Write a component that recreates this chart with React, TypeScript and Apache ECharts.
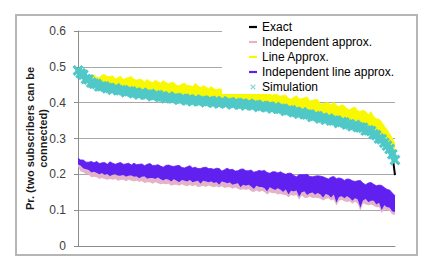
import React, { useEffect, useRef } from "react";
import * as echarts from "echarts";

// 120 ordered cases along the x axis (the reference shows no x labels)
const categories: number[] = Array.from({ length: 120 }, (_, i) => i + 1);

const yTicks = [0, 0.1, 0.2, 0.3, 0.4, 0.5, 0.6];

// Exact (black line, mostly hidden under the simulation markers)
const exact = [
  0.490, 0.484, 0.477, 0.469, 0.462, 0.457, 0.453, 0.450, 0.448, 0.445,
  0.443, 0.442, 0.440, 0.439, 0.437, 0.436, 0.435, 0.433, 0.432, 0.431,
  0.429, 0.428, 0.427, 0.426, 0.425, 0.424, 0.423, 0.422, 0.421, 0.420,
  0.419, 0.418, 0.416, 0.415, 0.414, 0.413, 0.412, 0.411, 0.411, 0.410,
  0.409, 0.408, 0.408, 0.407, 0.406, 0.406, 0.405, 0.404, 0.404, 0.403,
  0.403, 0.402, 0.402, 0.401, 0.401, 0.400, 0.399, 0.399, 0.398, 0.398,
  0.397, 0.397, 0.396, 0.395, 0.394, 0.394, 0.393, 0.392, 0.391, 0.390,
  0.389, 0.389, 0.388, 0.387, 0.385, 0.384, 0.383, 0.381, 0.380, 0.378,
  0.377, 0.375, 0.373, 0.372, 0.370, 0.369, 0.367, 0.365, 0.363, 0.362,
  0.360, 0.358, 0.357, 0.355, 0.353, 0.351, 0.350, 0.348, 0.346, 0.345,
  0.343, 0.341, 0.339, 0.337, 0.335, 0.333, 0.331, 0.328, 0.325, 0.322,
  0.319, 0.314, 0.308, 0.302, 0.296, 0.289, 0.280, 0.270, 0.255, 0.198,
];

// Simulation (x markers)
const simulation = [
  0.490, 0.482, 0.478, 0.466, 0.465, 0.456, 0.453, 0.452, 0.445, 0.446,
  0.445, 0.440, 0.441, 0.436, 0.440, 0.435, 0.435, 0.435, 0.429, 0.432,
  0.431, 0.426, 0.428, 0.423, 0.428, 0.423, 0.423, 0.424, 0.418, 0.421,
  0.421, 0.416, 0.417, 0.412, 0.417, 0.412, 0.412, 0.413, 0.408, 0.411,
  0.411, 0.406, 0.409, 0.404, 0.409, 0.405, 0.405, 0.406, 0.401, 0.404,
  0.405, 0.400, 0.403, 0.398, 0.404, 0.399, 0.399, 0.401, 0.395, 0.399,
  0.399, 0.395, 0.397, 0.392, 0.397, 0.393, 0.393, 0.394, 0.388, 0.391,
  0.391, 0.387, 0.389, 0.384, 0.388, 0.383, 0.383, 0.383, 0.377, 0.379,
  0.379, 0.373, 0.374, 0.369, 0.373, 0.368, 0.367, 0.367, 0.360, 0.363,
  0.362, 0.356, 0.358, 0.352, 0.356, 0.350, 0.350, 0.350, 0.343, 0.346,
  0.345, 0.339, 0.340, 0.334, 0.338, 0.332, 0.331, 0.330, 0.322, 0.323,
  0.321, 0.312, 0.309, 0.300, 0.298, 0.288, 0.280, 0.271, 0.256, 0.240,
];

// Line Approx. : upper edge of the noisy yellow trace (its lower part lies under the simulation)
const lineApproxHigh = [
  0.490, 0.482, 0.478, 0.466, 0.468, 0.473, 0.478, 0.471, 0.470, 0.477,
  0.478, 0.473, 0.473, 0.475, 0.466, 0.470, 0.474, 0.465, 0.468, 0.470,
  0.473, 0.465, 0.463, 0.465, 0.464, 0.458, 0.465, 0.459, 0.456, 0.462,
  0.459, 0.454, 0.462, 0.456, 0.453, 0.456, 0.456, 0.448, 0.447, 0.452,
  0.454, 0.448, 0.448, 0.444, 0.454, 0.447, 0.442, 0.447, 0.444, 0.439,
  0.445, 0.439, 0.436, 0.439, 0.437, 0.431, 0.430, 0.436, 0.437, 0.430,
  0.438, 0.430, 0.428, 0.425, 0.431, 0.427, 0.423, 0.429, 0.431, 0.424,
  0.424, 0.427, 0.425, 0.419, 0.429, 0.421, 0.418, 0.420, 0.421, 0.412,
  0.410, 0.415, 0.419, 0.411, 0.411, 0.414, 0.416, 0.405, 0.406, 0.409,
  0.408, 0.397, 0.397, 0.400, 0.400, 0.393, 0.402, 0.393, 0.389, 0.394,
  0.391, 0.383, 0.380, 0.385, 0.388, 0.377, 0.376, 0.379, 0.375, 0.366,
  0.375, 0.361, 0.355, 0.354, 0.346, 0.334, 0.325, 0.313, 0.301, 0.285,
];

// Independent line approx. : upper and lower edges of the noisy purple trace
const indepLineHigh = [
  0.245, 0.240, 0.240, 0.234, 0.234, 0.236, 0.232, 0.236, 0.230, 0.232,
  0.233, 0.228, 0.235, 0.231, 0.228, 0.231, 0.233, 0.228, 0.229, 0.231,
  0.226, 0.231, 0.227, 0.228, 0.229, 0.224, 0.228, 0.230, 0.225, 0.225,
  0.227, 0.223, 0.220, 0.225, 0.226, 0.223, 0.222, 0.224, 0.225, 0.219,
  0.218, 0.221, 0.224, 0.218, 0.220, 0.216, 0.216, 0.219, 0.220, 0.216,
  0.216, 0.214, 0.217, 0.216, 0.209, 0.213, 0.217, 0.213, 0.214, 0.209,
  0.210, 0.214, 0.215, 0.210, 0.210, 0.212, 0.206, 0.208, 0.211, 0.209,
  0.211, 0.205, 0.203, 0.207, 0.207, 0.204, 0.207, 0.203, 0.200, 0.203,
  0.203, 0.197, 0.193, 0.199, 0.199, 0.199, 0.200, 0.194, 0.193, 0.195,
  0.196, 0.195, 0.193, 0.190, 0.187, 0.192, 0.194, 0.188, 0.190, 0.188,
  0.183, 0.187, 0.186, 0.182, 0.180, 0.182, 0.183, 0.175, 0.171, 0.176,
  0.177, 0.172, 0.168, 0.170, 0.169, 0.163, 0.158, 0.156, 0.148, 0.140,
];
const indepLineLow = [
  0.228, 0.224, 0.216, 0.214, 0.212, 0.205, 0.207, 0.204, 0.200, 0.203,
  0.199, 0.201, 0.195, 0.199, 0.200, 0.196, 0.196, 0.198, 0.193, 0.196,
  0.197, 0.193, 0.194, 0.189, 0.193, 0.194, 0.188, 0.190, 0.190, 0.187,
  0.191, 0.186, 0.183, 0.187, 0.185, 0.180, 0.186, 0.182, 0.178, 0.184,
  0.182, 0.180, 0.184, 0.178, 0.180, 0.182, 0.174, 0.182, 0.180, 0.178,
  0.180, 0.176, 0.178, 0.171, 0.180, 0.178, 0.175, 0.177, 0.171, 0.173,
  0.175, 0.164, 0.171, 0.168, 0.171, 0.166, 0.159, 0.168, 0.165, 0.165,
  0.161, 0.152, 0.164, 0.160, 0.156, 0.161, 0.157, 0.151, 0.158, 0.144,
  0.154, 0.152, 0.155, 0.137, 0.150, 0.152, 0.142, 0.147, 0.149, 0.143,
  0.148, 0.144, 0.135, 0.145, 0.142, 0.135, 0.144, 0.121, 0.137, 0.139,
  0.133, 0.139, 0.134, 0.126, 0.133, 0.130, 0.106, 0.127, 0.131, 0.122,
  0.126, 0.126, 0.116, 0.121, 0.100, 0.114, 0.108, 0.107, 0.096, 0.095,
];

// Independent approx. : lower edge of the pink trace (its upper part lies under the purple one)
const indepApproxLow = [
  0.222, 0.208, 0.206, 0.200, 0.199, 0.192, 0.193, 0.192, 0.187, 0.190,
  0.187, 0.185, 0.187, 0.185, 0.187, 0.182, 0.184, 0.185, 0.181, 0.185,
  0.182, 0.180, 0.182, 0.179, 0.181, 0.176, 0.178, 0.178, 0.174, 0.178,
  0.175, 0.172, 0.174, 0.172, 0.174, 0.168, 0.171, 0.171, 0.168, 0.172,
  0.169, 0.167, 0.170, 0.167, 0.170, 0.165, 0.166, 0.168, 0.165, 0.169,
  0.166, 0.164, 0.167, 0.163, 0.167, 0.162, 0.164, 0.164, 0.160, 0.163,
  0.160, 0.156, 0.159, 0.156, 0.159, 0.153, 0.151, 0.155, 0.151, 0.154,
  0.151, 0.144, 0.150, 0.147, 0.148, 0.144, 0.146, 0.143, 0.142, 0.136,
  0.142, 0.140, 0.142, 0.129, 0.141, 0.135, 0.134, 0.138, 0.134, 0.135,
  0.134, 0.132, 0.127, 0.131, 0.133, 0.127, 0.130, 0.113, 0.126, 0.129,
  0.125, 0.123, 0.125, 0.118, 0.124, 0.118, 0.098, 0.119, 0.116, 0.114,
  0.116, 0.112, 0.108, 0.109, 0.092, 0.102, 0.100, 0.098, 0.088, 0.087,
];

const FONT = "'Liberation Sans', Arial, sans-serif";
const X_SHAPE = "M0,2L2,0L5,3L8,0L10,2L7,5L10,8L8,10L5,7L2,10L0,8L3,5Z";
const X_PATH = "path://" + X_SHAPE;
const X_LEGEND =
  "path://M-2.5,-2.5M12.5,12.5M0,1.5L1.5,0L5,3.5L8.5,0L10,1.5L6.5,5L10,8.5L8.5,10L5,6.5L1.5,10L0,8.5L3.5,5Z";
const BAR_ICON = "path://M0,0H8V2.2H0Z";

const COLORS = {
  exact: "#000000",
  indep: "#e6b2c8",
  line: "#f8f800",
  indepLine: "#6020f0",
  sim: "#50c8c8",
  simLegend: "#86d6d6",
};

const diff = (hi: number[], lo: number[]) =>
  hi.map((v, i) => Math.max(0, +(v - lo[i]).toFixed(4)));

export default function App() {
  const ref = useRef<HTMLDivElement>(null);

  useEffect(() => {
    if (!ref.current) return;
    const chart = echarts.init(ref.current, undefined, { renderer: "svg" });
    const hiddenBase = {
      type: "line",
      symbol: "none",
      silent: true,
      lineStyle: { opacity: 0, width: 0 },
      itemStyle: { opacity: 0 },
    };
    chart.setOption({
      animation: false,
      backgroundColor: "#ffffff",
      graphic: [
        {
          type: "rect",
          shape: { x: 16, y: 15, width: 401, height: 240 },
          style: { fill: "none", stroke: "#b6b6b6", lineWidth: 2 },
          silent: true,
        },
      ],
      grid: { left: 78, right: 41, top: 31, bottom: 28 },
      legend: {
        orient: "vertical",
        left: 222,
        top: 17,
        padding: [4, 4, 1, 27],
        itemWidth: 8,
        itemHeight: 8,
        itemGap: 3,
        backgroundColor: "#ffffff",
        textStyle: { fontSize: 12, color: "#000", fontFamily: FONT },
        data: [
          { name: "Exact", icon: BAR_ICON, itemStyle: { color: COLORS.exact } },
          { name: "Independent approx.", icon: BAR_ICON, itemStyle: { color: COLORS.indep } },
          { name: "Line Approx.", icon: BAR_ICON, itemStyle: { color: COLORS.line } },
          { name: "Independent line approx.", icon: BAR_ICON, itemStyle: { color: COLORS.indepLine } },
          { name: "Simulation", icon: X_LEGEND, itemStyle: { color: COLORS.simLegend } },
        ],
      },
      xAxis: {
        type: "category",
        data: categories,
        boundaryGap: false,
        axisLabel: { show: false },
        axisTick: { show: false },
        axisLine: { show: true, lineStyle: { color: "#8c8c8c", width: 1 } },
        splitLine: { show: false },
      },
      yAxis: {
        type: "value",
        min: yTicks[0],
        max: yTicks[yTicks.length - 1],
        interval: 0.1,
        name: "Pr. (two subscribers can be\nconnected)",
        nameLocation: "middle",
        nameRotate: 90,
        nameGap: 29,
        nameMoveOverlap: false,
        nameTextStyle: {
          fontFamily: FONT,
          fontSize: 11,
          fontWeight: "bold",
          color: "#1a1a1a",
          lineHeight: 13,
        },
        axisLine: { show: true, lineStyle: { color: "#8c8c8c", width: 1 } },
        axisTick: { show: true, length: 4, lineStyle: { color: "#8c8c8c" } },
        axisLabel: {
          fontFamily: FONT,
          fontSize: 12,
          color: "#404040",
          margin: 12,
          formatter: (v: number) => (v === 0 ? "0" : v.toFixed(1)),
        },
        splitLine: { show: true, lineStyle: { color: "#a8a8a8", width: 1 } },
      },
      series: [
        {
          name: "Exact",
          type: "line",
          data: exact,
          symbol: "none",
          z: 2,
          lineStyle: { color: COLORS.exact, width: 2 },
          itemStyle: { color: COLORS.exact },
        },
        { ...hiddenBase, name: "_indepBase", stack: "indep", data: indepApproxLow, z: 2 },
        {
          name: "Independent approx.",
          type: "line",
          stack: "indep",
          data: diff(indepLineLow, indepApproxLow),
          symbol: "none",
          z: 2,
          lineStyle: { width: 0, opacity: 0 },
          areaStyle: { color: COLORS.indep, opacity: 1 },
          itemStyle: { color: COLORS.indep },
        },
        { ...hiddenBase, name: "_lineBase", stack: "line", data: simulation, z: 2 },
        {
          name: "Line Approx.",
          type: "line",
          stack: "line",
          data: diff(lineApproxHigh, simulation),
          symbol: "none",
          z: 2,
          lineStyle: { color: COLORS.line, width: 0.8 },
          areaStyle: { color: COLORS.line, opacity: 1 },
          itemStyle: { color: COLORS.line },
        },
        { ...hiddenBase, name: "_indepLineBase", stack: "indepLine", data: indepLineLow, z: 3 },
        {
          name: "Independent line approx.",
          type: "line",
          stack: "indepLine",
          data: diff(indepLineHigh, indepLineLow),
          symbol: "none",
          z: 3,
          lineStyle: { color: COLORS.indepLine, width: 0.8 },
          areaStyle: { color: COLORS.indepLine, opacity: 1 },
          itemStyle: { color: COLORS.indepLine },
        },
        {
          name: "Simulation",
          type: "line",
          data: simulation,
          symbol: X_PATH,
          symbolSize: 11,
          showSymbol: true,
          showAllSymbol: true,
          z: 5,
          lineStyle: { color: COLORS.sim, width: 7 },
          itemStyle: { color: COLORS.sim, opacity: 1 },
        },
      ],
    });
    return () => chart.dispose();
  }, []);

  return (
    <div
      style={{
        position: "fixed",
        left: 0,
        top: 0,
        width: 436,
        height: 274,
        background: "#fff",
      }}
    >
      <div ref={ref} style={{ width: 436, height: 274 }} />
    </div>
  );
}
